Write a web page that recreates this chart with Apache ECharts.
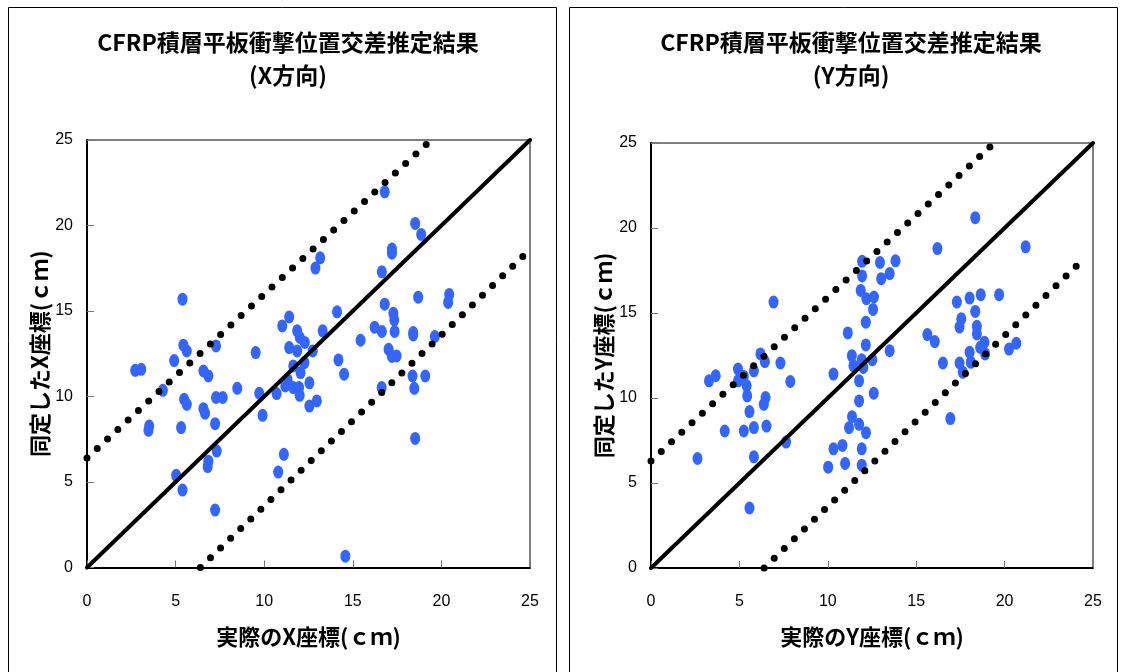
<!DOCTYPE html>
<html>
<head>
<meta charset="utf-8">
<script src="https://cdn.jsdelivr.net/npm/echarts@6/dist/echarts.min.js"></script>
<style>
html,body{margin:0;padding:0;background:#fff;}
#chart{width:1121px;height:672px;}
</style>
</head>
<body>
<div id="chart"></div>
<script>
// ---- Data ----
const titleMain = 'CFRP積層平板衝撃位置交差推定結果';
const titleX = '(X方向)';
const titleY = '(Y方向)';
const axisTicks = [0, 5, 10, 15, 20, 25];

// X direction: actual X (cm), identified X (cm)
const xActual = [2.72,3.06,3.51,3.47,4.28,4.92,5.39,5.44,5.63,5.48,5.63,5.31,5.03,5.39,6.57,6.85,6.57,6.66,6.85,6.81,
  7.32,7.28,7.28,7.66,7.23,7.23,8.48,9.52,9.72,9.91,10.70,10.79,11.11,11.02,11.41,11.19,11.32,11.64,11.97,12.00,
  11.64,12.05,12.55,12.55,11.86,12.01,12.29,11.41,11.86,12.74,12.27,12.97,13.16,12.89,13.30,14.11,14.19,14.51,14.58,15.44,
  16.23,16.64,16.64,16.80,16.80,17.21,17.21,17.29,17.34,17.36,17.02,17.47,17.21,16.63,18.37,19.09,18.47,18.52,18.41,18.41,
  18.52,18.86,18.69,19.63,20.44,20.38];
const xIdentified = [11.53,11.59,8.27,8.02,10.36,12.10,15.69,13.00,12.66,9.84,9.54,8.18,5.39,4.53,11.49,11.20,9.29,9.02,6.22,5.90,
  6.81,12.96,9.94,9.94,8.41,3.36,10.48,12.57,10.19,8.90,10.17,5.58,6.62,14.13,14.65,10.62,10.97,10.52,10.52,10.07,
  11.79,11.40,10.80,9.44,13.84,13.45,13.16,12.86,12.66,12.66,11.98,9.74,18.11,17.51,13.84,14.95,12.14,11.30,0.66,13.29,
  14.05,13.80,17.29,21.97,15.40,18.62,18.38,14.87,14.48,13.80,12.76,12.37,12.34,10.52,11.20,11.20,10.48,7.55,13.74,13.60,
  20.12,19.48,15.81,13.51,15.97,15.50];

// Y direction: actual Y (cm), identified Y (cm)
const yActual = [2.63,3.28,3.66,4.17,4.92,4.92,5.25,5.41,5.44,5.25,5.57,5.82,5.82,5.82,5.57,6.19,6.44,6.48,6.38,6.53,
  6.93,7.32,7.64,7.88,10.02,10.32,10.32,10.83,10.98,11.13,11.20,11.37,11.36,11.45,11.77,11.77,11.77,11.92,11.92,11.92,
  11.94,11.94,11.86,12.18,12.61,12.56,12.15,12.15,12.16,12.01,12.60,12.52,12.95,13.02,13.50,13.83,13.50,15.63,16.05,16.20,
  16.51,16.93,17.30,17.45,17.55,17.45,17.64,18.02,18.02,18.09,18.34,18.34,18.43,18.43,18.62,18.86,18.90,18.65,19.69,20.25,
  20.66,21.19];
const yIdentified = [6.44,11.01,11.31,8.06,11.70,11.01,11.27,10.72,10.12,8.06,9.20,8.26,11.60,6.54,3.53,12.59,12.14,10.03,9.63,8.35,
  15.64,12.06,7.41,10.97,5.93,7.01,11.41,7.21,6.15,13.83,8.25,8.90,12.49,11.90,11.01,9.83,8.45,12.25,7.01,6.05,
  18.04,17.18,16.33,15.84,15.94,15.21,14.46,13.12,7.96,11.80,10.28,12.25,17.97,17.02,17.32,18.07,12.78,13.73,13.32,18.79,
  12.06,8.79,15.64,14.17,14.66,12.06,11.51,15.88,12.69,12.10,15.09,20.61,14.22,13.77,12.98,13.28,12.59,16.08,16.08,12.88,
  13.22,18.89];

// Reference lines: [x, y] endpoints
const idealLine = [[0, 0], [25, 25]];
const upperBoundX = [[0, 6.4], [19.2, 24.8]];
const lowerBoundX = [[6.4, 0], [24.6, 18.2]];
const upperBoundY = [[0, 6.3], [19.3, 24.9]];
const lowerBoundY = [[6.4, 0], [24.6, 18.3]];

const xAxisNameX = '実際のX座標(ｃｍ)';
const yAxisNameX = '同定したX座標(ｃｍ)';
const xAxisNameY = '実際のY座標(ｃｍ)';
const yAxisNameY = '同定したY座標(ｃｍ)';

// ---- Build ----
const zip = (a, b) => a.map((v, i) => [v, b[i]]);
const CJK = '"Noto Sans CJK JP", sans-serif';
const NUM = '"Liberation Sans", Arial, sans-serif';

function makeAxis(idx, name, isY) {
  return {
    type: 'value', gridIndex: idx, min: 0, max: 25, interval: 5,
    name: name, nameLocation: 'middle',
    nameGap: isY ? 36 : 58,
    nameRotate: isY ? 90 : 0,
    nameTextStyle: {fontFamily: CJK, fontWeight: 'bold', fontSize: 22, color: '#000'},
    axisLine: {show: true, onZero: false, lineStyle: {color: '#000', width: 2}},
    axisTick: {show: true, inside: true, length: 7, lineStyle: {color: '#777', width: 1}},
    axisLabel: {fontFamily: NUM, fontSize: 16, color: '#000', margin: isY ? 14 : 26,
      formatter: v => axisTicks.includes(v) ? String(v) : ''},
    splitLine: {show: false}
  };
}

function lineSeries(idx, data, dotted) {
  return {
    type: 'line', xAxisIndex: idx, yAxisIndex: idx, data: data,
    symbol: 'none', clip: false, z: 5, silent: true,
    lineStyle: dotted
      ? {color: '#000', width: 7, type: [0, 14], cap: 'round'}
      : {color: '#000', width: 4, cap: 'round'}
  };
}

function scatterSeries(idx, data) {
  return {
    type: 'scatter', xAxisIndex: idx, yAxisIndex: idx, data: data,
    symbol: 'circle', symbolSize: [10, 13], z: 3,
    itemStyle: {color: '#3366ff', opacity: 1}
  };
}

const chart = echarts.init(document.getElementById('chart'), null, {renderer: 'canvas'});
chart.setOption({
  animation: false,
  backgroundColor: '#fff',
  title: [
    {text: titleMain + '\n' + titleX, left: 283, top: 21, textAlign: 'center',
     textStyle: {fontFamily: CJK, fontWeight: 'bold', fontSize: 23, lineHeight: 33, color: '#000'}},
    {text: titleMain + '\n' + titleY, left: 846, top: 21, textAlign: 'center',
     textStyle: {fontFamily: CJK, fontWeight: 'bold', fontSize: 23, lineHeight: 33, color: '#000'}}
  ],
  graphic: [
    {type: 'rect', shape: {x: 8.5, y: 7.5, width: 548, height: 700}, style: {fill: 'none', stroke: '#000', lineWidth: 1}, z: -1},
    {type: 'rect', shape: {x: 569.5, y: 7.5, width: 548, height: 700}, style: {fill: 'none', stroke: '#000', lineWidth: 1}, z: -1}
  ],
  grid: [
    {left: 87, top: 140, width: 443, height: 427.5, show: true, borderColor: '#000', borderWidth: 1, backgroundColor: '#fff'},
    {left: 651, top: 143, width: 442, height: 425, show: true, borderColor: '#000', borderWidth: 1, backgroundColor: '#fff'}
  ],
  xAxis: [makeAxis(0, xAxisNameX, false), makeAxis(1, xAxisNameY, false)],
  yAxis: [makeAxis(0, yAxisNameX, true), makeAxis(1, yAxisNameY, true)],
  series: [
    scatterSeries(0, zip(xActual, xIdentified)),
    lineSeries(0, idealLine, false),
    lineSeries(0, upperBoundX, true),
    lineSeries(0, lowerBoundX, true),
    scatterSeries(1, zip(yActual, yIdentified)),
    lineSeries(1, idealLine, false),
    lineSeries(1, upperBoundY, true),
    lineSeries(1, lowerBoundY, true)
  ]
});
</script>
</body>
</html>
